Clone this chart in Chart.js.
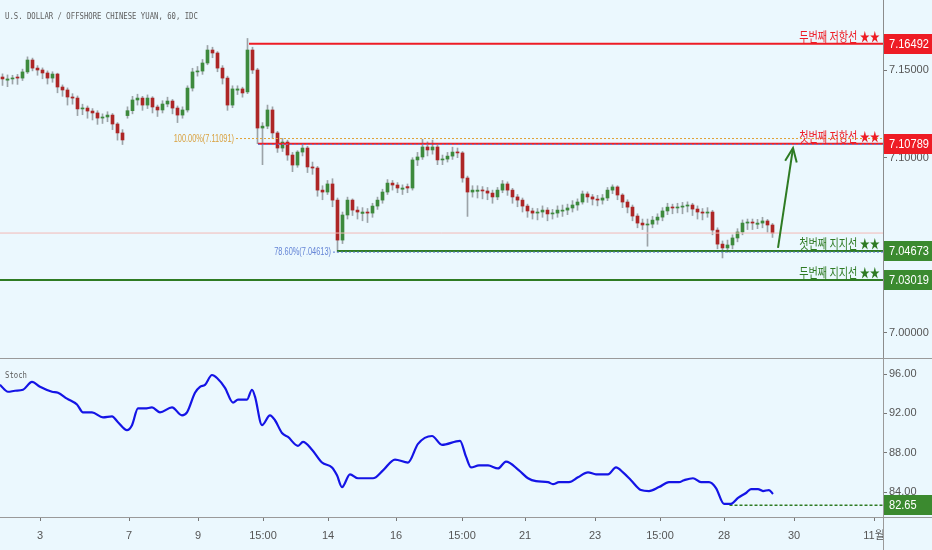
<!DOCTYPE html>
<html>
<head>
<meta charset="utf-8">
<script src="https://cdn.jsdelivr.net/npm/chart.js@4.4.1/dist/chart.umd.min.js"></script>
<style>
  html, body { margin: 0; padding: 0; background: #ebf8fe; width: 932px; height: 550px; overflow: hidden; }
  #price { position: absolute; left: 0; top: 0; }
  #stoch { position: absolute; left: 0; top: 358px; }
</style>
</head>
<body>
<canvas id="price" width="932" height="358"></canvas>
<canvas id="stoch" width="932" height="192"></canvas>
<script>
const TITLE = 'U.S. DOLLAR / OFFSHORE CHINESE YUAN, 60, IDC';

// 60분봉 (화면에서 읽은 값)
const opens = [
  7.1460, 7.1442, 7.1449, 7.1460, 7.1454, 7.1489, 7.1557, 7.1511, 7.1500, 7.1483,
  7.1454, 7.1477, 7.1403, 7.1386, 7.1346, 7.1340, 7.1278, 7.1283, 7.1266, 7.1255,
  7.1226, 7.1232, 7.1243, 7.1192, 7.1141, 7.1240, 7.1268, 7.1329, 7.1340, 7.1300,
  7.1340, 7.1289, 7.1272, 7.1306, 7.1323, 7.1283, 7.1243, 7.1272, 7.1397, 7.1489,
  7.1494, 7.1540, 7.1614, 7.1597, 7.1511, 7.1454, 7.1300, 7.1385, 7.1392, 7.1375,
  7.1614, 7.1500, 7.1169, 7.1180, 7.1272, 7.1141, 7.1055, 7.1089, 7.1015, 7.0958,
  7.1032, 7.1055, 7.0947, 7.0941, 7.0815, 7.0804, 7.0850, 7.0758, 7.0530, 7.0673,
  7.0758, 7.0701, 7.0682, 7.0690, 7.0684, 7.0724, 7.0758, 7.0804, 7.0855, 7.0844,
  7.0820, 7.0835, 7.0827, 7.0987, 7.1004, 7.1061, 7.1044, 7.1061, 7.0987, 7.0992,
  7.1009, 7.1032, 7.1027, 7.0884, 7.0804, 7.0808, 7.0815, 7.0810, 7.0798, 7.0776,
  7.0815, 7.0850, 7.0815, 7.0776, 7.0758, 7.0724, 7.0696, 7.0684, 7.0690, 7.0701,
  7.0679, 7.0684, 7.0695, 7.0701, 7.0713, 7.0730, 7.0747, 7.0793, 7.0776, 7.0764,
  7.0758, 7.0770, 7.0815, 7.0833, 7.0787, 7.0747, 7.0718, 7.0667, 7.0627, 7.0616,
  7.0621, 7.0644, 7.0661, 7.0696, 7.0718, 7.0713, 7.0718, 7.0724, 7.0730, 7.0707,
  7.0690, 7.0684, 7.0690, 7.0587, 7.0507, 7.0485, 7.0502, 7.0542, 7.0576, 7.0627,
  7.0633, 7.0620, 7.0627, 7.0639, 7.0616
];
const highs = [
  7.1478, 7.1472, 7.1470, 7.1475, 7.1505, 7.1575, 7.1568, 7.1525, 7.1512, 7.1495,
  7.1490, 7.1482, 7.1415, 7.1398, 7.1365, 7.1352, 7.1305, 7.1295, 7.1280, 7.1268,
  7.1250, 7.1262, 7.1252, 7.1200, 7.1160, 7.1290, 7.1350, 7.1362, 7.1350, 7.1358,
  7.1348, 7.1300, 7.1325, 7.1345, 7.1332, 7.1295, 7.1290, 7.1410, 7.1510, 7.1520,
  7.1560, 7.1640, 7.1630, 7.1605, 7.1525, 7.1465, 7.1410, 7.1410, 7.1402, 7.1680,
  7.1630, 7.1510, 7.1200, 7.1300, 7.1290, 7.1150, 7.1110, 7.1100, 7.1030, 7.1040,
  7.1075, 7.1065, 7.0975, 7.0950, 7.0840, 7.0870, 7.0880, 7.0770, 7.0690, 7.0775,
  7.0765, 7.0720, 7.0715, 7.0710, 7.0740, 7.0775, 7.0820, 7.0875, 7.0870, 7.0858,
  7.0845, 7.0850, 7.1000, 7.1030, 7.1105, 7.1090, 7.1100, 7.1070, 7.1015, 7.1030,
  7.1060, 7.1055, 7.1035, 7.0895, 7.0840, 7.0840, 7.0835, 7.0830, 7.0815, 7.0830,
  7.0870, 7.0862, 7.0825, 7.0790, 7.0770, 7.0735, 7.0712, 7.0710, 7.0725, 7.0715,
  7.0705, 7.0725, 7.0730, 7.0735, 7.0755, 7.0765, 7.0810, 7.0805, 7.0790, 7.0785,
  7.0790, 7.0830, 7.0845, 7.0840, 7.0795, 7.0760, 7.0730, 7.0680, 7.0650, 7.0650,
  7.0665, 7.0680, 7.0715, 7.0740, 7.0735, 7.0740, 7.0745, 7.0748, 7.0740, 7.0725,
  7.0710, 7.0715, 7.0700, 7.0600, 7.0525, 7.0530, 7.0560, 7.0595, 7.0645, 7.0650,
  7.0650, 7.0648, 7.0660, 7.0648, 7.0625
];
const lows = [
  7.1412, 7.1405, 7.1420, 7.1418, 7.1440, 7.1480, 7.1495, 7.1470, 7.1450, 7.1420,
  7.1430, 7.1370, 7.1350, 7.1300, 7.1305, 7.1240, 7.1245, 7.1225, 7.1215, 7.1190,
  7.1195, 7.1205, 7.1160, 7.1100, 7.1075, 7.1225, 7.1250, 7.1300, 7.1270, 7.1280,
  7.1255, 7.1235, 7.1255, 7.1290, 7.1250, 7.1200, 7.1225, 7.1260, 7.1380, 7.1465,
  7.1475, 7.1530, 7.1570, 7.1490, 7.1420, 7.1270, 7.1285, 7.1360, 7.1345, 7.1365,
  7.1480, 7.1080, 7.0960, 7.1165, 7.1110, 7.1030, 7.1035, 7.0985, 7.0920, 7.0945,
  7.1010, 7.0915, 7.0905, 7.0780, 7.0760, 7.0790, 7.0720, 7.0461, 7.0510, 7.0650,
  7.0670, 7.0650, 7.0640, 7.0630, 7.0660, 7.0705, 7.0740, 7.0790, 7.0815, 7.0800,
  7.0790, 7.0800, 7.0815, 7.0955, 7.0990, 7.1010, 7.1020, 7.0960, 7.0960, 7.0975,
  7.0990, 7.1000, 7.0860, 7.0665, 7.0775, 7.0770, 7.0765, 7.0760, 7.0740, 7.0760,
  7.0800, 7.0785, 7.0740, 7.0720, 7.0690, 7.0660, 7.0650, 7.0645, 7.0660, 7.0640,
  7.0650, 7.0660, 7.0665, 7.0675, 7.0690, 7.0700, 7.0735, 7.0745, 7.0730, 7.0725,
  7.0735, 7.0755, 7.0795, 7.0760, 7.0715, 7.0685, 7.0640, 7.0600, 7.0590, 7.0495,
  7.0600, 7.0620, 7.0640, 7.0675, 7.0680, 7.0685, 7.0680, 7.0690, 7.0670, 7.0650,
  7.0645, 7.0660, 7.0560, 7.0480, 7.0428, 7.0460, 7.0480, 7.0520, 7.0560, 7.0590,
  7.0590, 7.0595, 7.0600, 7.0575, 7.0545
];
const closes = [
  7.1449, 7.1449, 7.1454, 7.1454, 7.1489, 7.1557, 7.1511, 7.1500, 7.1483, 7.1454,
  7.1477, 7.1403, 7.1386, 7.1346, 7.1340, 7.1278, 7.1283, 7.1266, 7.1255, 7.1226,
  7.1232, 7.1243, 7.1192, 7.1141, 7.1101, 7.1268, 7.1329, 7.1340, 7.1300, 7.1340,
  7.1289, 7.1272, 7.1306, 7.1323, 7.1283, 7.1243, 7.1272, 7.1397, 7.1489, 7.1494,
  7.1540, 7.1614, 7.1597, 7.1511, 7.1454, 7.1300, 7.1392, 7.1392, 7.1369, 7.1614,
  7.1500, 7.1169, 7.1180, 7.1272, 7.1141, 7.1055, 7.1089, 7.1015, 7.0958, 7.1032,
  7.1055, 7.0947, 7.0941, 7.0815, 7.0804, 7.0850, 7.0758, 7.0530, 7.0673, 7.0758,
  7.0701, 7.0690, 7.0690, 7.0684, 7.0724, 7.0758, 7.0804, 7.0855, 7.0844, 7.0827,
  7.0827, 7.0827, 7.0987, 7.1004, 7.1061, 7.1044, 7.1061, 7.0987, 7.0992, 7.1009,
  7.1032, 7.1027, 7.0884, 7.0804, 7.0815, 7.0815, 7.0810, 7.0798, 7.0776, 7.0815,
  7.0850, 7.0815, 7.0776, 7.0758, 7.0724, 7.0696, 7.0684, 7.0690, 7.0701, 7.0679,
  7.0684, 7.0701, 7.0701, 7.0713, 7.0730, 7.0747, 7.0793, 7.0776, 7.0764, 7.0758,
  7.0770, 7.0815, 7.0833, 7.0787, 7.0747, 7.0718, 7.0667, 7.0627, 7.0616, 7.0621,
  7.0644, 7.0661, 7.0696, 7.0718, 7.0713, 7.0718, 7.0724, 7.0730, 7.0707, 7.0690,
  7.0684, 7.0690, 7.0587, 7.0507, 7.0485, 7.0502, 7.0542, 7.0576, 7.0627, 7.0633,
  7.0627, 7.0627, 7.0639, 7.0616, 7.0570
];

// 스토캐스틱 (봉 번호, 값)
const stochX = [
  -0.5, 1.1, 2.5, 4.1, 5.9, 7.5, 9.9, 11.1, 12.9, 14.9, 16.1, 17.9, 20.1, 21.9, 23.1, 24.9,
  25.9, 27.1, 28.5, 29.9, 31.5, 33.9, 35.9, 36.9, 38.5, 39.5, 40.5, 41.9, 42.9, 44.5, 46.1, 47.1,
  48.9, 49.9, 50.5, 51.9, 53.5, 54.5, 55.9, 57.1, 59.1, 60.1, 61.9, 63.9, 65.9, 66.9, 67.9, 69.5,
  71.1, 74.1, 76.1, 78.5, 81.1, 83.1, 85.9, 87.9, 91.5, 92.7, 93.7, 95.3, 97.1, 99.1, 100.7, 103.3,
  105.1, 106.7, 109.1, 110.1, 111.3, 113.3, 115.1, 117.1, 118.7, 121.1, 122.7, 124.1, 125.7, 127.7, 129.3, 131.3,
  133.3, 135.3, 136.3, 138.1, 139.7, 141.3, 142.7, 144.3, 145.7, 147.1, 148.7, 149.7, 151.1, 152.1, 153.3, 154.1
];
const stochY = [
  94.9, 94.2, 94.3, 94.4, 95.2, 94.7, 94.2, 94.1, 93.5, 92.9, 92.1, 92.1, 91.6, 91.7, 91.1, 90.3,
  90.8, 92.5, 92.5, 92.6, 92.1, 92.6, 91.8, 92.1, 94.1, 94.7, 94.9, 95.9, 95.6, 94.6, 93.1, 93.4,
  93.4, 94.4, 93.7, 90.8, 91.8, 91.3, 90.0, 89.6, 88.7, 89.1, 88.3, 87.0, 86.5, 85.7, 84.5, 85.8,
  85.4, 85.4, 86.2, 87.3, 87.0, 88.9, 89.7, 88.8, 89.2, 87.6, 86.5, 86.7, 86.7, 86.4, 87.1, 86.2,
  85.4, 85.1, 85.0, 84.8, 85.0, 85.0, 85.5, 86.0, 85.8, 85.8, 86.5, 86.0, 85.2, 84.2, 84.1, 84.5,
  85.0, 85.0, 85.2, 85.4, 85.0, 85.0, 84.4, 82.8, 82.8, 83.4, 83.9, 84.3, 84.3, 84.1, 84.2, 83.8
];
const stochMark = 82.65;
const stochMarkFrom = 145.4;

// 저항선 / 지지선
const resistValues = [7.16492, 7.10789];
const resistNames = ['두번째 저항선', '첫번째 저항선'];
const resistFrom = [49.3, 51.1];
const supportValues = [7.04673, 7.03019];
const supportNames = ['첫번째 지지선', '두번째 지지선'];
const supportFrom = [66.9, -0.5];

// 피보나치
const fibValues = [7.11091, 7.1076, 7.04613];
const fibTexts = ['100.00%(7.11091)', '', '78.60%(7.04613)'];
const fibFrom = [46.7, 51.1, 66.1];

// 예상 경로 화살표
const arrowX = [155.1, 158.1];
const arrowY = [7.0485, 7.1055];

// 축
const priceTicks = [7.00, 7.10, 7.15];
const stochTicks = [84, 88, 92, 96];
const timeTickPos = [7.5, 25.3, 39.1, 52.1, 65.1, 78.7, 91.9, 104.5, 118.5, 131.5, 144.3, 158.3, 174.3];
const timeTickLabels = ['3', '7', '9', '15:00', '14', '16', '15:00', '21', '23', '15:00', '28', '30', '11월'];

const X_MIN = -0.5, X_MAX = 176.1;
const PRICE_MIN = 6.98574, PRICE_MAX = 7.18993;
const STOCH_MIN = 81.46, STOCH_MAX = 97.63;

const RED = '#ee1c25';
const GREEN = '#2e7b23';
const BOX_GREEN = '#3b8a2f';
const UP = '#3d8a3d';
const DOWN = '#ad2626';
const WICK = '#9ca3a8';
const AXIS_TEXT = '#555';
const KR_FONT = '"Noto Sans CJK KR", sans-serif';

Chart.defaults.font.family = '"Liberation Sans", "Noto Sans CJK KR", sans-serif';

function drawText(ctx, text, x, y, font, color, align, sx) {
  ctx.save();
  ctx.font = font;
  ctx.fillStyle = color;
  ctx.textAlign = align;
  ctx.textBaseline = 'middle';
  ctx.translate(x, y);
  ctx.scale(sx, 1);
  ctx.fillText(text, 0, 0);
  ctx.restore();
}

function axisBox(chart, scale, value, text, color) {
  const ctx = chart.ctx;
  const y = scale.getPixelForValue(value);
  const x0 = chart.chartArea.right + 1;
  ctx.fillStyle = color;
  ctx.fillRect(x0, Math.round(y) - 10, chart.width - x0, 20);
  drawText(ctx, text, x0 + 5, y + 0.5, '12px "Liberation Sans"', '#fff', 'left', 0.92);
}

function hLine(value, from, color, width, dash) {
  return {
    type: 'line',
    data: [{ x: from, y: value }, { x: X_MAX, y: value }],
    borderColor: color,
    borderWidth: width,
    borderDash: dash || [],
    pointRadius: 0,
    order: 1
  };
}

// 캔들
const idx = closes.map((_, i) => i);
const wickData = idx.map(i => ({ x: i, y: [lows[i], highs[i]] }));
const bodyData = idx.map(i => ({ x: i, y: [opens[i], closes[i]] }));
const bodyColors = idx.map(i => closes[i] >= opens[i] ? UP : DOWN);

const priceSets = [
  { type: 'bar', data: wickData, backgroundColor: WICK, barThickness: 1, grouped: false, order: 10 },
  { type: 'bar', data: bodyData, backgroundColor: bodyColors, barThickness: 3, grouped: false, minBarLength: 1, order: 9 },
  hLine(closes[closes.length - 1], X_MIN, '#f3b9b6', 1)
];
fibValues.forEach((v, i) => {
  priceSets.push(hLine(v, fibFrom[i], i === 0 ? '#e0a133' : '#5b7fd6', 1, [2, 2]));
});
resistValues.forEach((v, i) => priceSets.push(hLine(v, resistFrom[i], RED, 2)));
supportValues.forEach((v, i) => priceSets.push(hLine(v, supportFrom[i], GREEN, 2)));
const arrowIndex = priceSets.length;
priceSets.push({
  type: 'line',
  data: arrowX.map((x, i) => ({ x: x, y: arrowY[i] })),
  borderColor: GREEN,
  borderWidth: 2,
  pointRadius: 0,
  order: 0
});

const overlayTop = {
  id: 'overlayTop',
  afterDraw(chart) {
    const { ctx, chartArea, scales } = chart;
    const ys = scales.y, xs = scales.x;
    ctx.save();

    drawText(ctx, TITLE, 5, 17, '8px "DejaVu Sans Mono", monospace', '#5e5e5e', 'left', 0.91);

    // 화살표 머리
    const pts = chart.getDatasetMeta(arrowIndex).data;
    const p0 = pts[0], p1 = pts[pts.length - 1];
    const ang = Math.atan2(p1.y - p0.y, p1.x - p0.x);
    ctx.strokeStyle = GREEN;
    ctx.lineWidth = 2;
    ctx.beginPath();
    ctx.moveTo(p1.x - 15 * Math.cos(ang - 0.4), p1.y - 15 * Math.sin(ang - 0.4));
    ctx.lineTo(p1.x, p1.y);
    ctx.lineTo(p1.x - 15 * Math.cos(ang + 0.4), p1.y - 15 * Math.sin(ang + 0.4));
    ctx.stroke();

    // 피보나치 라벨
    fibTexts.forEach((t, i) => {
      if (!t) return;
      const color = i === 0 ? '#d9a13f' : '#6585d6';
      drawText(ctx, t, xs.getPixelForValue(fibFrom[i]) - 2, ys.getPixelForValue(fibValues[i]) + 0.5,
        '10px "Liberation Sans"', color, 'right', 0.74);
    });

    // 선 이름
    resistValues.forEach((v, i) => {
      drawText(ctx, resistNames[i] + ' ★★', chartArea.right - 3, ys.getPixelForValue(v) - 8,
        '13px ' + KR_FONT, RED, 'right', 0.78);
    });
    supportValues.forEach((v, i) => {
      drawText(ctx, supportNames[i] + ' ★★', chartArea.right - 3, ys.getPixelForValue(v) - 8,
        '13px ' + KR_FONT, GREEN, 'right', 0.78);
    });

    // 가격축 박스
    resistValues.forEach(v => axisBox(chart, ys, v, v.toFixed(5), RED));
    supportValues.forEach(v => axisBox(chart, ys, v, v.toFixed(5), BOX_GREEN));

    ctx.restore();
  }
};

new Chart(document.getElementById('price'), {
  type: 'bar',
  data: { datasets: priceSets },
  options: {
    responsive: false,
    animation: false,
    events: [],
    layout: { padding: 0 },
    plugins: { legend: { display: false }, tooltip: { enabled: false } },
    scales: {
      x: { type: 'linear', min: X_MIN, max: X_MAX, display: false, offset: false },
      y: {
        position: 'right',
        min: PRICE_MIN,
        max: PRICE_MAX,
        afterBuildTicks: s => { s.ticks = priceTicks.map(v => ({ value: v })); },
        afterFit: s => { s.width = 49; s.paddingTop = 0; s.paddingBottom = 0; },
        grid: { drawOnChartArea: false, tickLength: 4, color: '#777' },
        border: { display: true, color: '#8c8c8c' },
        ticks: { callback: v => v.toFixed(5), color: AXIS_TEXT, font: { size: 11 }, padding: 2 }
      }
    }
  },
  plugins: [overlayTop]
});

const overlayBottom = {
  id: 'overlayBottom',
  afterDraw(chart) {
    const { ctx, chartArea, scales } = chart;
    ctx.save();
    ctx.strokeStyle = '#9a9a9a';
    ctx.lineWidth = 1;
    ctx.beginPath();
    ctx.moveTo(0, 0.5);
    ctx.lineTo(chart.width, 0.5);
    ctx.moveTo(0, Math.round(chartArea.bottom) + 0.5);
    ctx.lineTo(chart.width, Math.round(chartArea.bottom) + 0.5);
    ctx.moveTo(Math.round(chartArea.right) + 0.5, 0);
    ctx.lineTo(Math.round(chartArea.right) + 0.5, chart.height);
    ctx.stroke();

    drawText(ctx, 'Stoch', 5, 18, '8px "DejaVu Sans Mono", monospace', '#5e5e5e', 'left', 0.91);
    axisBox(chart, scales.y, stochMark, stochMark.toFixed(2), BOX_GREEN);
    ctx.restore();
  }
};

new Chart(document.getElementById('stoch'), {
  type: 'line',
  data: {
    datasets: [
      {
        data: stochX.map((x, i) => ({ x: x, y: stochY[i] })),
        borderColor: '#1414e6',
        borderWidth: 2.2,
        pointRadius: 0,
        cubicInterpolationMode: 'monotone'
      },
      {
        data: [{ x: stochMarkFrom, y: stochMark }, { x: X_MAX, y: stochMark }],
        borderColor: GREEN,
        borderWidth: 1.5,
        borderDash: [3, 2],
        pointRadius: 0
      }
    ]
  },
  options: {
    responsive: false,
    animation: false,
    events: [],
    layout: { padding: 0 },
    plugins: { legend: { display: false }, tooltip: { enabled: false } },
    scales: {
      x: {
        type: 'linear',
        min: X_MIN,
        max: X_MAX,
        offset: false,
        afterBuildTicks: s => { s.ticks = timeTickPos.map(v => ({ value: v })); },
        afterFit: s => { s.height = 33; s.paddingLeft = 0; s.paddingRight = 0; },
        grid: { drawOnChartArea: false, tickLength: 4, color: '#777' },
        border: { display: false },
        ticks: {
          autoSkip: false,
          maxRotation: 0,
          padding: 8,
          color: AXIS_TEXT,
          font: { size: 11 },
          callback: (v, i) => timeTickLabels[i]
        }
      },
      y: {
        position: 'right',
        min: STOCH_MIN,
        max: STOCH_MAX,
        afterBuildTicks: s => { s.ticks = stochTicks.map(v => ({ value: v })); },
        afterFit: s => { s.width = 49; s.paddingTop = 0; s.paddingBottom = 0; },
        grid: { drawOnChartArea: false, tickLength: 4, color: '#777' },
        border: { display: false },
        ticks: { callback: v => v.toFixed(2), color: AXIS_TEXT, font: { size: 11 }, padding: 2 }
      }
    }
  },
  plugins: [overlayBottom]
});
</script>
</body>
</html>
